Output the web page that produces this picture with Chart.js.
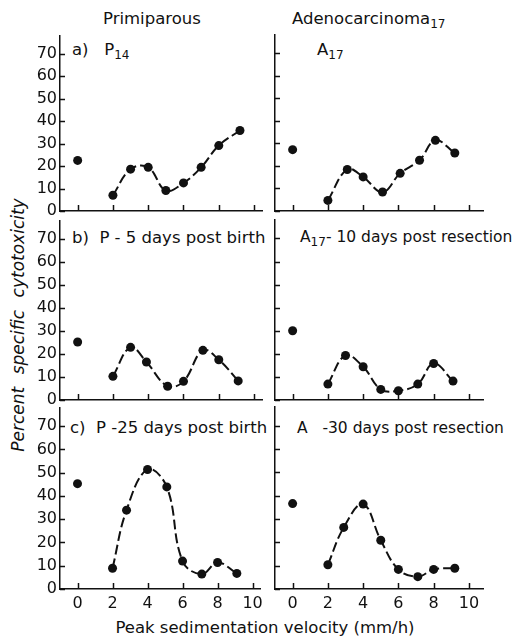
<!DOCTYPE html>
<html>
<head>
<meta charset="utf-8">
<script src="https://cdn.jsdelivr.net/npm/chart.js@4.4.1/dist/chart.umd.min.js"></script>
<style>
  html, body { margin: 0; padding: 0; background: #fff; }
  #wrap { position: relative; width: 517px; height: 638px; overflow: hidden; font-family: "DejaVu Sans", sans-serif; color: #111; }
  canvas { position: absolute; }
  .lbl { position: absolute; font-size: 16.5px; line-height: 17px; white-space: nowrap; }
  .lbl.r { font-size: 15.5px; }
  .lbl sub { font-size: 12px; vertical-align: -4px; line-height: 0; }
  #ytitle { position: absolute; font-size: 17px; font-style: italic; word-spacing: 7px; white-space: nowrap;
            left: 18px; top: 325px; transform: translate(-50%, -50%) rotate(-90deg); }
</style>
</head>
<body>
<div id="wrap">
  <div class="lbl" style="left:103px; top:10px;">Primiparous</div>
  <div class="lbl" style="left:292px; top:10px;">Adenocarcinoma<sub>17</sub></div>

  <div class="lbl" style="left:72px; top:41px;">a)&nbsp;&nbsp; P<sub>14</sub></div>
  <div class="lbl" style="left:317px; top:41px;">A<sub>17</sub></div>
  <div class="lbl" style="left:72px; top:229px;">b)&nbsp; P - 5 days post birth</div>
  <div class="lbl r" style="left:300px; top:229px;">A<sub>17</sub>- 10 days post resection</div>
  <div class="lbl" style="left:70px; top:419px;">c)&nbsp; P -25 days post birth</div>
  <div class="lbl r" style="left:297px; top:420px;">A&nbsp;&nbsp; -30 days post resection</div>

  <div id="ytitle">Percent specific cytotoxicity</div>
  <div class="lbl" style="left:0; width:530px; text-align:center; top:619px;">Peak sedimentation velocity (mm/h)</div>

  <canvas id="c0"></canvas><canvas id="c1"></canvas>
  <canvas id="c2"></canvas><canvas id="c3"></canvas>
  <canvas id="c4"></canvas><canvas id="c5"></canvas>
</div>
<script>
// tick labels
const yTicks = [0, 10, 20, 30, 40, 50, 60, 70];
const xTicks = [0, 2, 4, 6, 8, 10];

// unfractionated sample (velocity 0), panel order a, A17, b, A17-10, c, A-30
const zeroTox = [22.5, 27.2, 25.2, 30.0, 45.3, 36.6];

// a) P14
const p14Vel = [2, 3, 4, 5, 6, 7, 8, 9.2];
const p14Tox = [7, 18.6, 19.4, 9.1, 12.5, 19.4, 29.1, 35.8];
// A17
const a17Vel = [2, 3.1, 4, 5.1, 6.1, 7.2, 8.1, 9.2];
const a17Tox = [4.7, 18.4, 15.1, 8.4, 16.7, 22.5, 31.3, 25.7];
// b) P - 5 days post birth
const p5Vel = [2, 3, 3.9, 5.1, 6, 7.1, 8, 9.1];
const p5Tox = [10.3, 22.9, 16.5, 6.0, 8.1, 21.6, 17.5, 8.3];
// A17 - 10 days post resection
const a10Vel = [2, 3, 4, 5, 6, 7.1, 8, 9.1];
const a10Tox = [6.9, 19.3, 14.4, 4.6, 4.0, 6.9, 15.8, 8.2];
// c) P - 25 days post birth
const p25Vel = [2, 2.8, 4, 5.1, 6, 7.1, 8, 9.1];
const p25Tox = [8.9, 33.9, 51.4, 43.9, 12.0, 6.4, 11.4, 6.7];
// A - 30 days post resection
const a30Vel = [2, 2.9, 4, 5, 6, 7.1, 8, 9.2];
const a30Tox = [10.4, 26.4, 36.4, 20.9, 8.4, 5.3, 8.4, 8.9];

const curves = [
  [p14Vel, p14Tox], [a17Vel, a17Tox],
  [p5Vel, p5Tox], [a10Vel, a10Tox],
  [p25Vel, p25Tox], [a30Vel, a30Tox]
];

// panel placement (axis positions in page px)
const cols = [{ l: 60, r: 262, xmax: 10.45 }, { l: 275, r: 483, xmax: 10.8 }];
const rows = [{ t: 35, b: 211 }, { t: 220, b: 400 }, { t: 407, b: 589 }];
const YW = 32, PADT = 12, PADR = 6, XH = 28;

// short tick marks drawn inside the axes
const innerTicks = {
  id: 'innerTicks',
  afterDraw(chart) {
    const { ctx, chartArea, scales } = chart;
    ctx.save();
    ctx.strokeStyle = '#111';
    ctx.lineWidth = 1.5;
    ctx.beginPath();
    xTicks.forEach(v => {
      const px = Math.round(scales.x.getPixelForValue(v)) + 0.5;
      ctx.moveTo(px, chartArea.bottom);
      ctx.lineTo(px, chartArea.bottom - 6);
    });
    yTicks.forEach(v => {
      const py = Math.round(scales.y.getPixelForValue(v)) + 0.5;
      ctx.moveTo(chartArea.left, py);
      ctx.lineTo(chartArea.left + 5, py);
    });
    ctx.stroke();
    ctx.restore();
  }
};

for (let i = 0; i < 6; i++) {
  const col = cols[i % 2], row = rows[Math.floor(i / 2)];
  const cv = document.getElementById('c' + i);
  const w = col.r - col.l + YW + PADR;
  const h = row.b - row.t + PADT + XH;
  cv.width = w; cv.height = h;
  cv.style.left = (col.l - YW) + 'px';
  cv.style.top = (row.t - PADT) + 'px';
  cv.style.width = w + 'px'; cv.style.height = h + 'px';

  const [vel, tox] = curves[i];
  const showY = i % 2 === 0;
  const showX = i >= 4;

  new Chart(cv, {
    type: 'scatter',
    data: {
      datasets: [
        {
          data: vel.map((v, k) => ({ x: v, y: tox[k] })),
          showLine: true,
          borderColor: '#111',
          borderWidth: 2,
          borderDash: [10, 4],
          tension: 0.4,
          pointRadius: 4.5,
          pointBackgroundColor: '#111',
          pointBorderWidth: 0,
          clip: false
        },
        {
          data: [{ x: 0, y: zeroTox[i] }],
          pointRadius: 4.5,
          pointBackgroundColor: '#111',
          pointBorderWidth: 0,
          clip: false
        }
      ]
    },
    options: {
      responsive: false,
      animation: false,
      events: [],
      layout: { padding: { left: 0, top: PADT, right: PADR, bottom: 0 } },
      plugins: { legend: { display: false }, tooltip: { enabled: false } },
      scales: {
        x: {
          type: 'linear',
          min: -1,
          max: col.xmax,
          afterBuildTicks: s => { s.ticks = xTicks.map(v => ({ value: v })); },
          afterFit: s => { s.height = XH; },
          grid: { display: false, drawTicks: false },
          border: { display: true, color: '#111', width: 1.5 },
          ticks: {
            display: showX,
            padding: 5,
            color: '#111',
            font: { family: 'DejaVu Sans', size: 16 },
            maxRotation: 0,
            callback: v => String(v)
          }
        },
        y: {
          min: 0,
          max: 78,
          afterBuildTicks: s => { s.ticks = yTicks.map(v => ({ value: v })); },
          afterFit: s => { s.width = YW; },
          grid: { display: false, drawTicks: false },
          border: { display: true, color: '#111', width: 1.5 },
          ticks: {
            display: showY,
            padding: 3,
            color: '#111',
            font: { family: 'DejaVu Sans', size: 16 },
            callback: v => String(v)
          }
        }
      }
    },
    plugins: [innerTicks]
  });
}
</script>
</body>
</html>
